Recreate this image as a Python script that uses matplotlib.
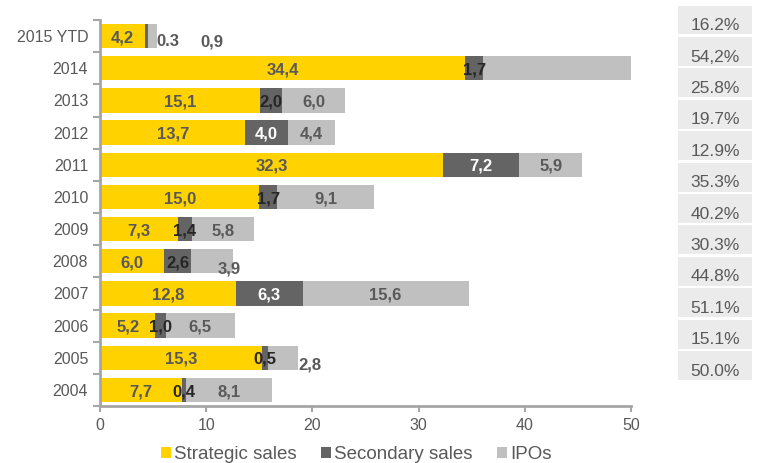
import numpy as np
import matplotlib.pyplot as plt
from matplotlib.patches import Rectangle

plt.rcParams['font.family'] = ['Liberation Sans', 'DejaVu Sans']

years = ['2015 YTD', '2014', '2013', '2012', '2011', '2010',
         '2009', '2008', '2007', '2006', '2005', '2004']
strategic = [4.2, 34.4, 15.1, 13.7, 32.3, 15.0, 7.3, 6.0, 12.8, 5.2, 15.3, 7.7]
secondary = [0.3, 1.7, 2.0, 4.0, 7.2, 1.7, 1.4, 2.6, 6.3, 1.0, 0.5, 0.4]
ipos = [0.9, 14.1, 6.0, 4.4, 5.9, 9.1, 5.8, 3.9, 15.6, 6.5, 2.8, 8.1]
shares = ['16.2%', '54,2%', '25.8%', '19.7%', '12.9%', '35.3%',
          '40.2%', '30.3%', '44.8%', '51.1%', '15.1%', '50.0%']

YELLOW = '#ffd200'
DARK = '#646464'
LIGHT = '#c0c0c0'
TXT = '#595959'
AXC = '#a6a6a6'

fig = plt.figure(figsize=(7.78, 4.63), dpi=100)
W, H = 778, 463
ax = fig.add_axes([100 / W, 1 - 406 / H, 531 / W, 386 / H])

y = np.arange(len(years))[::-1]
s = np.array(strategic)
d = np.array(secondary)
p = np.array(ipos)
h = 0.76
ax.barh(y, s, height=h, color=YELLOW, label='Strategic sales')
ax.barh(y, d, left=s, height=h, color=DARK, label='Secondary sales')
ax.barh(y, p, left=s + d, height=h, color=LIGHT, label='IPOs')


def fmt(v):
    return f'{v:.1f}'.replace('.', ',')


# labels that sit outside or below their segment: (row, series) -> (x, dy)
moved = {(0, 1): (6.4, -0.12), (0, 2): (10.5, -0.12),
         (10, 2): (19.8, -0.18), (7, 2): (12.2, -0.18)}

for i in range(len(years)):
    segs = [(s[i], 0, s[i]), (d[i], s[i], d[i]), (p[i], s[i] + d[i], p[i])]
    for k, (v, left, w) in enumerate(segs):
        if i == 1 and k == 2:
            continue
        txt = fmt(v)
        if i == 0 and k == 1:
            txt = f'{v:.1f}'
        col = TXT
        if k == 1:
            col = 'white' if w >= 4 else '#262626'
        if (i, k) in moved:
            xx, dy = moved[(i, k)]
            col = TXT
        else:
            xx, dy = left + w / 2, 0
        ax.text(xx, y[i] + dy - 0.05, txt, ha='center', va='center',
                fontsize=12, fontweight='bold', color=col)

ax.set_xlim(0, 50)
ax.set_ylim(-0.5, len(years) - 0.5)
ax.set_xticks([0, 10, 20, 30, 40, 50])
ax.set_yticks(y)
ax.set_yticklabels(years)
ax.set_yticks(np.arange(len(years) + 1) - 0.5, minor=True)
ax.tick_params(axis='y', which='major', length=0, labelsize=11.5,
               labelcolor=TXT, pad=8.5)
ax.tick_params(axis='y', which='minor', length=5, width=1.5, color=AXC)
ax.tick_params(axis='x', length=4, width=1.5, color=AXC, labelsize=11.5,
               labelcolor=TXT, pad=5)
for side in ['top', 'right']:
    ax.spines[side].set_visible(False)
for side in ['left', 'bottom']:
    ax.spines[side].set_color(AXC)
    ax.spines[side].set_linewidth(2)

# share boxes on the right
bx = fig.add_axes([678 / W, 1 - 380 / H, 74 / W, 377 / H])
bx.set_xlim(0, 1)
bx.set_ylim(0, len(shares))
bx.axis('off')
for i, t in enumerate(shares):
    r = len(shares) - 1 - i
    bx.add_patch(Rectangle((0, r), 1, 0.92, color='#ebebeb', lw=0))
    bx.text(0.5, r + 0.04, t, ha='center', va='bottom', fontsize=12.5,
            color=TXT)

fig.legend(loc='lower center', bbox_to_anchor=(356 / W, -0.036), ncol=3,
           frameon=False, fontsize=13.5, handlelength=0.55, handleheight=0.55,
           handletextpad=0.15, columnspacing=1.3, labelcolor=TXT)

fig.savefig('out.png', dpi=100)
